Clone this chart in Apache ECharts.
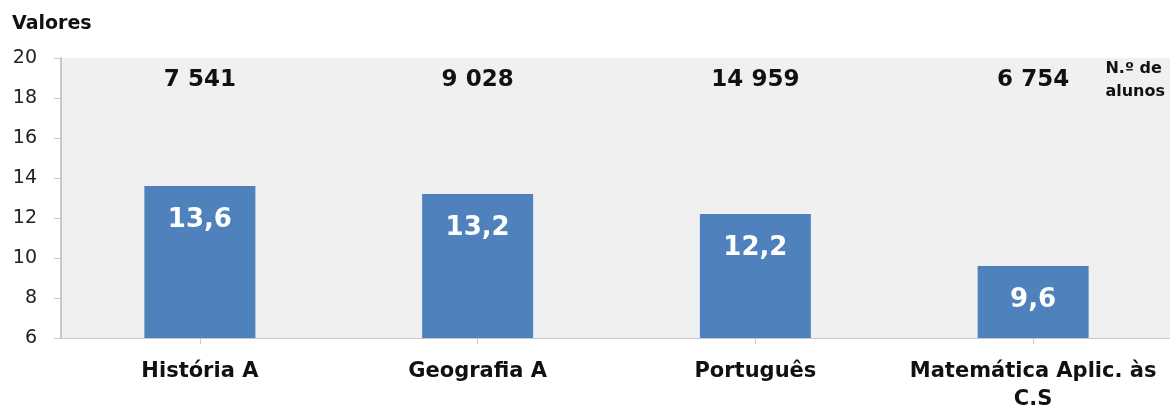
<!DOCTYPE html>
<html>
<head>
<meta charset="utf-8">
<script src="https://cdn.jsdelivr.net/npm/echarts@6/dist/echarts.min.js"></script>
<style>
  html, body { margin: 0; padding: 0; background: #fff; }
  #chart { width: 1170px; height: 410px; }
</style>
</head>
<body>
<div id="chart"></div>
<script>
// dados
const disciplinas = ['História A', 'Geografia A', 'Português', 'Matemática Aplic. às\nC.S']
const medias = [13.6, 13.2, 12.2, 9.6]
const nAlunos = [7541, 9028, 14959, 6754]
const yTicks = [6, 8, 10, 12, 14, 16, 18, 20]

const fonte = '"DejaVu Sans", "Open Sans", sans-serif'

// 7541 -> "7 541"
const fmtMilhares = (n) => String(n).replace(/\B(?=(\d{3})+(?!\d))/g, ' ')
// 13.6 -> "13,6"
const fmtDecimal = (v) => v.toFixed(1).replace('.', ',')

const chart = echarts.init(document.getElementById('chart'))

chart.setOption({
  backgroundColor: '#fff',
  animation: false,
  textStyle: { fontFamily: fonte },
  grid: {
    left: 61,
    right: -2,
    top: 58,
    bottom: 72,
    outerBoundsMode: 'none',
    containLabel: false,
    show: true,
    backgroundColor: '#f0f0f0',
    borderWidth: 0,
  },
  graphic: [
    {
      type: 'text',
      left: 12,
      top: 15,
      style: {
        text: 'Valores',
        font: 'bold 19px ' + fonte,
        fill: '#111',
      },
    },
    {
      type: 'text',
      right: 5,
      top: 57,
      style: {
        text: 'N.º de\nalunos',
        font: 'bold 16px ' + fonte,
        fill: '#111',
        align: 'center',
        lineHeight: 23,
      },
    },
  ],
  xAxis: [
    {
      type: 'category',
      data: disciplinas,
      axisLine: { lineStyle: { color: '#c8c8c8', width: 1 } },
      axisTick: { show: true, alignWithLabel: true, length: 6, lineStyle: { color: '#c8c8c8' } },
      axisLabel: {
        color: '#111',
        fontWeight: 'bold',
        fontSize: 21,
        fontFamily: fonte,
        margin: 20,
        lineHeight: 28,
        interval: 0,
      },
    },
    {
      type: 'category',
      position: 'top',
      data: nAlunos.map(fmtMilhares),
      axisLine: { show: false },
      axisTick: { show: false },
      axisLabel: {
        inside: true,
        margin: 11,
        color: '#111',
        fontWeight: 'bold',
        fontSize: 23,
        fontFamily: fonte,
        interval: 0,
      },
    },
  ],
  yAxis: {
    type: 'value',
    min: yTicks[0],
    max: yTicks[yTicks.length - 1],
    interval: 2,
    splitLine: { show: false },
    axisLine: { show: true, lineStyle: { color: '#c8c8c8', width: 2 } },
    axisTick: { show: true, length: 7, lineStyle: { color: '#c8c8c8' } },
    axisLabel: {
      color: '#222',
      fontSize: 19,
      fontFamily: fonte,
      margin: 24,
    },
  },
  series: [
    {
      type: 'bar',
      data: medias,
      barWidth: 111,
      itemStyle: { color: '#4f81bd' },
      label: {
        show: true,
        position: 'insideTop',
        distance: 21,
        color: '#fff',
        fontWeight: 'bold',
        fontSize: 26,
        fontFamily: fonte,
        formatter: (p) => fmtDecimal(p.value),
      },
    },
  ],
})
</script>
</body>
</html>
